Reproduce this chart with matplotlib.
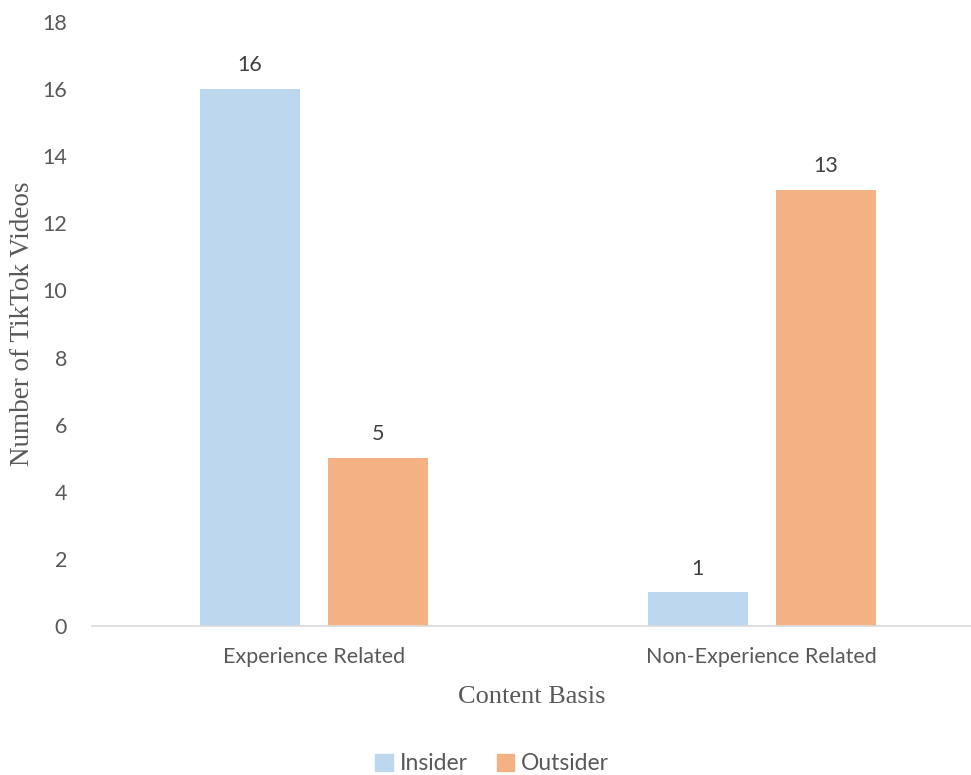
import matplotlib
matplotlib.use("Agg")
import matplotlib.pyplot as plt
from matplotlib.patches import Patch
import numpy as np

categories = ["Experience Related", "Non-Experience Related"]
series_names = ["Insider", "Outsider"]
insider = [16, 1]
outsider = [5, 13]
yticks = [0, 2, 4, 6, 8, 10, 12, 14, 16, 18]

colors = ["#BDD7EE", "#F4B183"]
tick_color = "#595959"
sans = ["Lato", "DejaVu Sans"]
serif = ["Liberation Serif", "DejaVu Serif"]

fig = plt.figure(figsize=(9.71, 7.75), dpi=100)
ax = fig.add_axes([92/971, 1-626/775, 879/971, 604/775])

x = np.arange(len(categories))
w = 0.2235
off = 0.143
for vals, col, sgn in [(insider, colors[0], -1), (outsider, colors[1], 1)]:
    bars = ax.bar(x + sgn*off, vals, width=w, color=col, zorder=2)
    for b, v in zip(bars, vals):
        ax.annotate(str(v), (b.get_x()+b.get_width()/2, v), xytext=(0, 10),
                    textcoords="offset points", ha="center", va="bottom",
                    fontsize=15.5, color="#404040", family=sans)

ax.set_xlim(-0.496, 1.468)
ax.set_ylim(0, 18)
ax.set_yticks(yticks)
ax.set_xticks(x)
ax.set_xticklabels(categories)
for s in ["top", "right", "left"]:
    ax.spines[s].set_visible(False)
ax.spines["bottom"].set_color("#D9D9D9")
ax.spines["bottom"].set_linewidth(1.2)
ax.tick_params(axis="both", length=0, labelsize=15.5, colors=tick_color)
ax.tick_params(axis="x", pad=15)
ax.tick_params(axis="y", pad=18)
for lab in ax.get_xticklabels() + ax.get_yticklabels():
    lab.set_family(sans)

ax.set_xlabel("Content Basis", fontsize=19, color=tick_color, family=serif, labelpad=14)
ax.set_ylabel("Number of TikTok Videos", fontsize=19.5, color=tick_color, family=serif, labelpad=5)

handles = [Patch(color=c) for c in colors]
fig.legend(handles, series_names, loc="center", bbox_to_anchor=(0.507, 1-764/775),
           ncol=2, frameon=False, prop={"family": sans, "size": 16.5},
           handlelength=0.75, handleheight=0.75, handletextpad=0.3, columnspacing=1.3,
           labelcolor=tick_color)

fig.savefig("out.png", dpi=100)
